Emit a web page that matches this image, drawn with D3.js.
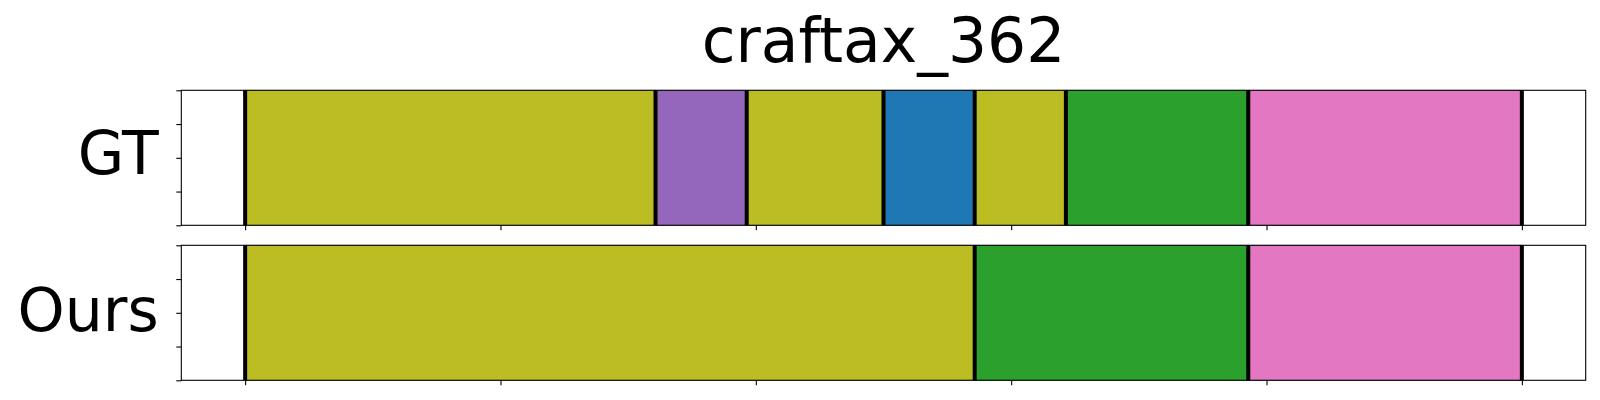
<!DOCTYPE html>
<html>
<head>
<meta charset="utf-8">
<script src="https://cdn.jsdelivr.net/npm/d3@7"></script>
<style>
  html, body { margin: 0; padding: 0; background: #fff; }
  svg { display: block; }
  text { font-family: "DejaVu Sans", sans-serif; fill: #000; }
</style>
</head>
<body>
<svg id="chart" width="1600" height="400"></svg>
<script>
// ---- data ----
const title = "craftax_362";
const totalSteps = 28;
const rowLabels = ["GT", "Ours"];
const gtBounds = [0, 9, 11, 14, 16, 18, 22, 28];
const gtClasses = ["olive", "purple", "olive", "blue", "olive", "green", "pink"];
const oursBounds = [0, 16, 22, 28];
const oursClasses = ["olive", "green", "pink"];
const classNames = ["blue", "green", "purple", "pink", "olive"];
const classColors = ["#1f77b4", "#2ca02c", "#9467bd", "#e377c2", "#bcbd22"];
const xTicks = [0, 0.2, 0.4, 0.6, 0.8, 1.0];
const yTicks = [0, 0.25, 0.5, 0.75, 1.0];

// ---- layout ----
const svg = d3.select("#chart");
const left = 181.3, right = 1585.7;
const panels = [
  { label: rowLabels[0], bounds: gtBounds, classes: gtClasses, top: 90.3, bottom: 225.3, baseline: 174 },
  { label: rowLabels[1], bounds: oursBounds, classes: oursClasses, top: 245.3, bottom: 380.3, baseline: 330.7 }
];

const x = d3.scaleLinear().domain([-0.05, 1.05]).range([left, right]);
const color = d3.scaleOrdinal().domain(classNames).range(classColors);

svg.append("text")
  .attr("x", (left + right) / 2)
  .attr("y", 62.3)
  .attr("text-anchor", "middle")
  .attr("font-size", 61.5)
  .text(title);

panels.forEach(p => {
  const y = d3.scaleLinear().domain([0, 1]).range([p.bottom, p.top]);
  const g = svg.append("g");
  const segs = p.classes.map((c, i) => ({
    c, s: p.bounds[i] / totalSteps, e: p.bounds[i + 1] / totalSteps
  }));
  g.selectAll("rect.seg").data(segs).join("rect")
    .attr("class", "seg")
    .attr("x", d => x(d.s))
    .attr("width", d => x(d.e) - x(d.s))
    .attr("y", y(1))
    .attr("height", y(0) - y(1))
    .attr("fill", d => color(d.c))
    .attr("stroke", "rgba(0,0,0,0.25)")
    .attr("stroke-width", 1);

  g.selectAll("line.bound").data(p.bounds).join("line")
    .attr("class", "bound")
    .attr("x1", d => x(d / totalSteps)).attr("x2", d => x(d / totalSteps))
    .attr("y1", y(1)).attr("y2", y(0))
    .attr("stroke", "#000").attr("stroke-width", 4);

  // axes
  const xAxis = d3.axisBottom(x).tickValues(xTicks).tickSize(5).tickFormat("");
  const yAxis = d3.axisLeft(y).tickValues(yTicks).tickSize(5).tickFormat("");
  const gx = g.append("g").attr("transform", `translate(0,${p.bottom})`).call(xAxis);
  const gy = g.append("g").attr("transform", `translate(${left},0)`).call(yAxis);
  [gx, gy].forEach(a => {
    a.select(".domain").remove();
    a.selectAll(".tick line").attr("stroke", "#000").attr("stroke-width", 1.1);
  });

  g.append("rect")
    .attr("x", left).attr("y", p.top)
    .attr("width", right - left).attr("height", p.bottom - p.top)
    .attr("fill", "none").attr("stroke", "#000").attr("stroke-width", 1.1);

  svg.append("text")
    .attr("x", 158.7)
    .attr("y", p.baseline)
    .attr("text-anchor", "end")
    .attr("font-size", 60)
    .text(p.label);
});
</script>
</body>
</html>
